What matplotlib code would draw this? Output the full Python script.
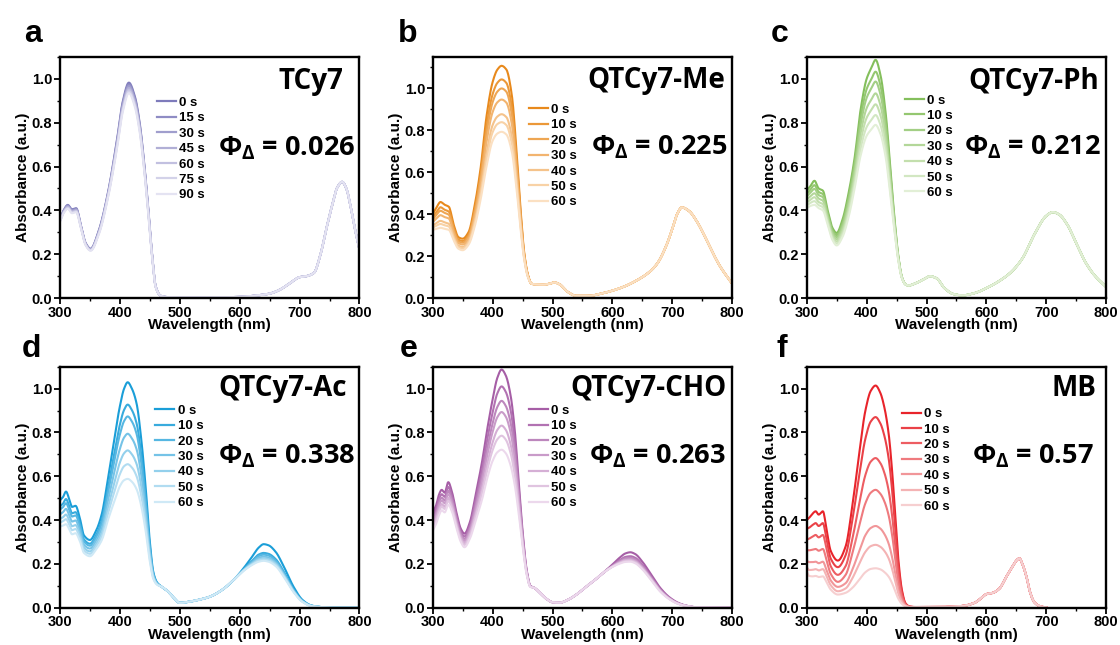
import numpy as np
import matplotlib
matplotlib.use('Agg')
import matplotlib.pyplot as plt
import matplotlib.colors as mcolors
from matplotlib.ticker import MultipleLocator

plt.rcParams['font.family'] = ['Liberation Sans', 'DejaVu Sans']
plt.rcParams['font.weight'] = 'bold'
plt.rcParams['mathtext.fontset'] = 'custom'
plt.rcParams['mathtext.rm'] = 'Open Sans:bold'
plt.rcParams['mathtext.it'] = 'Open Sans:bold'
plt.rcParams['mathtext.bf'] = 'Open Sans:bold'

# ---------------- data ----------------
# a  TCy7
a_times = [0, 15, 30, 45, 60, 75, 90]
a_front_wl = [300, 306, 313, 320, 327, 335, 343, 351, 365, 380, 395, 405, 415, 425, 433, 440, 447, 453, 460, 468]
a_front = [
    [0.360, 0.400, 0.425, 0.405, 0.410, 0.330, 0.250, 0.225, 0.310, 0.480, 0.720, 0.900, 0.983, 0.920, 0.800, 0.630, 0.420, 0.220, 0.050, 0.010],
    [0.358, 0.398, 0.422, 0.402, 0.407, 0.328, 0.248, 0.223, 0.307, 0.476, 0.713, 0.892, 0.975, 0.912, 0.793, 0.625, 0.416, 0.218, 0.050, 0.010],
    [0.356, 0.396, 0.419, 0.399, 0.404, 0.326, 0.246, 0.222, 0.304, 0.472, 0.706, 0.884, 0.967, 0.904, 0.786, 0.620, 0.412, 0.216, 0.049, 0.010],
    [0.354, 0.394, 0.416, 0.396, 0.401, 0.324, 0.245, 0.220, 0.301, 0.468, 0.699, 0.876, 0.959, 0.896, 0.779, 0.614, 0.408, 0.214, 0.049, 0.010],
    [0.352, 0.391, 0.413, 0.393, 0.398, 0.322, 0.243, 0.219, 0.298, 0.464, 0.692, 0.868, 0.951, 0.888, 0.772, 0.608, 0.404, 0.212, 0.048, 0.010],
    [0.350, 0.389, 0.410, 0.390, 0.395, 0.320, 0.242, 0.217, 0.295, 0.460, 0.686, 0.860, 0.943, 0.880, 0.765, 0.603, 0.400, 0.210, 0.048, 0.010],
    [0.348, 0.387, 0.407, 0.387, 0.392, 0.318, 0.240, 0.216, 0.292, 0.456, 0.680, 0.852, 0.935, 0.872, 0.758, 0.598, 0.396, 0.208, 0.047, 0.010],
]
a_tail_wl = [480, 520, 560, 600, 630, 650, 665, 680, 690, 700, 712, 724, 735, 745, 755, 763, 771, 778, 785, 792, 800]
a_tail = [[0.004, 0.003, 0.003, 0.005, 0.012, 0.020, 0.035, 0.060, 0.080, 0.095, 0.100, 0.115, 0.200, 0.320, 0.430, 0.505, 0.530, 0.500, 0.420, 0.320, 0.220]]

# b  QTCy7-Me
b_times = [0, 10, 20, 30, 40, 50, 60]
b_front_wl = [300, 306, 313, 320, 327, 335, 343, 350, 360, 370, 380, 390, 400, 408, 415, 423, 432, 440, 447, 453, 459, 465]
b_front = [
    [0.400, 0.430, 0.458, 0.445, 0.435, 0.350, 0.290, 0.283, 0.315, 0.440, 0.620, 0.870, 1.030, 1.090, 1.108, 1.090, 0.970, 0.700, 0.410, 0.210, 0.110, 0.068],
    [0.385, 0.409, 0.433, 0.421, 0.412, 0.335, 0.279, 0.272, 0.303, 0.419, 0.589, 0.821, 0.972, 1.027, 1.043, 1.026, 0.914, 0.663, 0.391, 0.204, 0.108, 0.068],
    [0.374, 0.396, 0.416, 0.406, 0.397, 0.324, 0.271, 0.264, 0.294, 0.406, 0.569, 0.788, 0.934, 0.985, 1.000, 0.984, 0.877, 0.638, 0.379, 0.200, 0.107, 0.068],
    [0.362, 0.379, 0.395, 0.386, 0.379, 0.312, 0.262, 0.255, 0.284, 0.389, 0.543, 0.747, 0.887, 0.934, 0.947, 0.932, 0.832, 0.608, 0.364, 0.195, 0.105, 0.068],
    [0.345, 0.357, 0.368, 0.361, 0.354, 0.295, 0.250, 0.243, 0.271, 0.367, 0.510, 0.694, 0.825, 0.866, 0.877, 0.863, 0.772, 0.568, 0.344, 0.188, 0.103, 0.068],
    [0.336, 0.345, 0.353, 0.347, 0.341, 0.286, 0.243, 0.236, 0.264, 0.355, 0.492, 0.665, 0.791, 0.830, 0.839, 0.825, 0.739, 0.546, 0.333, 0.184, 0.101, 0.068],
    [0.325, 0.330, 0.335, 0.330, 0.325, 0.275, 0.235, 0.228, 0.255, 0.340, 0.470, 0.630, 0.750, 0.785, 0.793, 0.780, 0.700, 0.520, 0.320, 0.180, 0.100, 0.068],
]
b_tail_wl = [472, 485, 495, 503, 512, 525, 540, 560, 580, 600, 620, 640, 660, 675, 690, 700, 708, 716, 728, 740, 752, 765, 780, 800]
b_tail = [[0.065, 0.064, 0.068, 0.074, 0.065, 0.030, 0.010, 0.010, 0.020, 0.035, 0.055, 0.083, 0.120, 0.165, 0.250, 0.330, 0.400, 0.432, 0.415, 0.370, 0.307, 0.230, 0.150, 0.068]]

# c  QTCy7-Ph
c_times = [0, 10, 20, 30, 40, 50, 60]
c_front_wl = [300, 306, 313, 320, 327, 335, 343, 350, 360, 370, 380, 390, 400, 408, 415, 423, 432, 440, 447, 453, 459, 465]
c_front = [
    [0.490, 0.510, 0.535, 0.500, 0.490, 0.400, 0.320, 0.297, 0.360, 0.480, 0.640, 0.860, 1.000, 1.050, 1.087, 1.020, 0.840, 0.580, 0.350, 0.190, 0.095, 0.062],
    [0.475, 0.494, 0.515, 0.484, 0.474, 0.388, 0.310, 0.287, 0.345, 0.460, 0.615, 0.822, 0.953, 0.999, 1.033, 0.971, 0.804, 0.558, 0.340, 0.186, 0.094, 0.062],
    [0.463, 0.480, 0.498, 0.470, 0.460, 0.378, 0.302, 0.278, 0.333, 0.443, 0.593, 0.790, 0.913, 0.957, 0.988, 0.930, 0.773, 0.540, 0.332, 0.183, 0.093, 0.062],
    [0.449, 0.464, 0.478, 0.454, 0.444, 0.367, 0.292, 0.268, 0.319, 0.423, 0.568, 0.752, 0.866, 0.906, 0.934, 0.881, 0.737, 0.518, 0.322, 0.180, 0.092, 0.062],
    [0.435, 0.448, 0.460, 0.438, 0.428, 0.356, 0.282, 0.258, 0.305, 0.405, 0.544, 0.716, 0.822, 0.858, 0.884, 0.835, 0.703, 0.498, 0.312, 0.176, 0.092, 0.062],
    [0.422, 0.434, 0.442, 0.424, 0.414, 0.345, 0.273, 0.249, 0.292, 0.387, 0.521, 0.682, 0.780, 0.813, 0.835, 0.791, 0.670, 0.478, 0.303, 0.173, 0.091, 0.062],
    [0.410, 0.420, 0.425, 0.410, 0.400, 0.335, 0.265, 0.240, 0.280, 0.370, 0.500, 0.650, 0.740, 0.770, 0.790, 0.750, 0.640, 0.460, 0.295, 0.170, 0.090, 0.062],
]
c_tail_wl = [470, 480, 495, 506, 517, 530, 545, 560, 580, 600, 620, 640, 660, 680, 700, 711, 722, 735, 750, 765, 780, 800]
c_tail = [[0.057, 0.065, 0.085, 0.099, 0.090, 0.045, 0.018, 0.012, 0.022, 0.045, 0.075, 0.115, 0.180, 0.290, 0.375, 0.392, 0.380, 0.335, 0.250, 0.165, 0.105, 0.050]]

# d  QTCy7-Ac
d_times = [0, 10, 20, 30, 40, 50, 60]
d_front_wl = [300, 305, 310, 316, 320, 326, 333, 340, 350, 360, 370, 380, 390, 400, 407, 413, 420, 428, 436, 443, 450, 456, 462]
d_front = [
    [0.490, 0.505, 0.530, 0.490, 0.460, 0.465, 0.410, 0.330, 0.309, 0.350, 0.430, 0.590, 0.760, 0.920, 1.000, 1.029, 1.000, 0.930, 0.760, 0.550, 0.300, 0.160, 0.115],
    [0.462, 0.475, 0.496, 0.459, 0.431, 0.436, 0.386, 0.312, 0.292, 0.330, 0.402, 0.546, 0.695, 0.836, 0.903, 0.927, 0.902, 0.840, 0.691, 0.504, 0.279, 0.153, 0.113],
    [0.448, 0.459, 0.477, 0.442, 0.416, 0.421, 0.373, 0.302, 0.283, 0.320, 0.388, 0.523, 0.661, 0.791, 0.852, 0.873, 0.850, 0.792, 0.654, 0.479, 0.268, 0.149, 0.111],
    [0.426, 0.436, 0.451, 0.418, 0.393, 0.398, 0.354, 0.287, 0.270, 0.305, 0.366, 0.489, 0.611, 0.725, 0.777, 0.794, 0.773, 0.722, 0.600, 0.443, 0.252, 0.144, 0.110],
    [0.405, 0.413, 0.425, 0.395, 0.372, 0.377, 0.336, 0.274, 0.257, 0.290, 0.345, 0.456, 0.563, 0.663, 0.705, 0.718, 0.700, 0.655, 0.548, 0.409, 0.237, 0.139, 0.108],
    [0.388, 0.395, 0.404, 0.376, 0.354, 0.359, 0.321, 0.262, 0.246, 0.278, 0.328, 0.429, 0.523, 0.610, 0.646, 0.655, 0.640, 0.599, 0.506, 0.380, 0.224, 0.135, 0.107],
    [0.370, 0.375, 0.381, 0.355, 0.335, 0.340, 0.305, 0.250, 0.235, 0.265, 0.310, 0.400, 0.480, 0.555, 0.582, 0.588, 0.575, 0.540, 0.460, 0.350, 0.210, 0.130, 0.105],
]
d_tail_wl = [470, 480, 490, 500, 515, 530, 550, 570, 590, 605, 620, 632, 640, 648, 660, 675, 690, 705, 720, 740, 760, 800]
d_tail = [
    [0.095, 0.075, 0.045, 0.022, 0.027, 0.035, 0.050, 0.080, 0.127, 0.175, 0.230, 0.275, 0.290, 0.285, 0.255, 0.180, 0.095, 0.035, 0.010, 0.002, 0.000, 0.000],
    [0.095, 0.075, 0.045, 0.022, 0.027, 0.035, 0.050, 0.080, 0.127, 0.170, 0.212, 0.243, 0.250, 0.246, 0.222, 0.158, 0.083, 0.031, 0.009, 0.002, 0.000, 0.000],
    [0.095, 0.075, 0.045, 0.022, 0.027, 0.035, 0.050, 0.080, 0.127, 0.169, 0.208, 0.236, 0.242, 0.238, 0.215, 0.153, 0.080, 0.030, 0.009, 0.002, 0.000, 0.000],
    [0.095, 0.075, 0.045, 0.022, 0.027, 0.035, 0.050, 0.080, 0.127, 0.168, 0.204, 0.228, 0.233, 0.229, 0.207, 0.147, 0.077, 0.029, 0.008, 0.002, 0.000, 0.000],
    [0.095, 0.075, 0.045, 0.022, 0.027, 0.035, 0.050, 0.080, 0.127, 0.167, 0.200, 0.221, 0.226, 0.222, 0.201, 0.143, 0.075, 0.028, 0.008, 0.002, 0.000, 0.000],
    [0.095, 0.075, 0.045, 0.022, 0.027, 0.035, 0.050, 0.080, 0.127, 0.166, 0.197, 0.216, 0.220, 0.216, 0.196, 0.139, 0.073, 0.027, 0.008, 0.002, 0.000, 0.000],
    [0.095, 0.075, 0.045, 0.022, 0.027, 0.035, 0.050, 0.080, 0.127, 0.165, 0.194, 0.210, 0.214, 0.210, 0.190, 0.135, 0.071, 0.026, 0.007, 0.002, 0.000, 0.000],
]

# e  QTCy7-CHO
e_times = [0, 10, 20, 30, 40, 50, 60]
e_front_wl = [300, 306, 311, 315, 320, 326, 332, 340, 347, 353, 362, 372, 382, 392, 400, 408, 415, 422, 430, 437, 444, 451, 457, 463]
e_front = [
    [0.430, 0.470, 0.520, 0.538, 0.525, 0.573, 0.530, 0.430, 0.360, 0.338, 0.390, 0.520, 0.660, 0.830, 0.950, 1.050, 1.087, 1.060, 0.970, 0.810, 0.560, 0.320, 0.170, 0.100],
    [0.413, 0.452, 0.500, 0.518, 0.506, 0.551, 0.511, 0.415, 0.347, 0.325, 0.374, 0.495, 0.624, 0.782, 0.891, 0.979, 1.010, 0.985, 0.903, 0.757, 0.531, 0.307, 0.166, 0.099],
    [0.399, 0.437, 0.483, 0.502, 0.490, 0.533, 0.495, 0.403, 0.337, 0.314, 0.361, 0.473, 0.594, 0.740, 0.841, 0.917, 0.944, 0.921, 0.845, 0.712, 0.505, 0.297, 0.162, 0.098],
    [0.388, 0.425, 0.470, 0.489, 0.477, 0.518, 0.482, 0.393, 0.328, 0.305, 0.350, 0.456, 0.570, 0.708, 0.802, 0.870, 0.893, 0.872, 0.800, 0.677, 0.486, 0.288, 0.159, 0.097],
    [0.374, 0.411, 0.454, 0.473, 0.462, 0.501, 0.467, 0.381, 0.318, 0.295, 0.338, 0.436, 0.541, 0.669, 0.754, 0.812, 0.831, 0.812, 0.746, 0.635, 0.462, 0.278, 0.156, 0.097],
    [0.364, 0.400, 0.442, 0.461, 0.451, 0.488, 0.456, 0.372, 0.310, 0.287, 0.328, 0.421, 0.520, 0.640, 0.719, 0.769, 0.785, 0.767, 0.706, 0.604, 0.444, 0.270, 0.153, 0.096],
    [0.350, 0.385, 0.425, 0.445, 0.435, 0.470, 0.440, 0.360, 0.300, 0.276, 0.315, 0.400, 0.490, 0.600, 0.670, 0.710, 0.721, 0.705, 0.650, 0.560, 0.420, 0.260, 0.150, 0.095],
]
e_tail_wl = [470, 480, 490, 500, 512, 525, 540, 555, 570, 585, 600, 612, 622, 630, 638, 650, 665, 680, 695, 710, 725, 740, 800]
e_tail = [
    [0.090, 0.065, 0.040, 0.025, 0.023, 0.035, 0.060, 0.093, 0.125, 0.160, 0.197, 0.228, 0.248, 0.253, 0.245, 0.210, 0.150, 0.090, 0.048, 0.022, 0.008, 0.002, 0.000],
    [0.090, 0.065, 0.040, 0.025, 0.023, 0.035, 0.060, 0.093, 0.125, 0.160, 0.192, 0.217, 0.232, 0.235, 0.228, 0.196, 0.140, 0.084, 0.045, 0.020, 0.008, 0.002, 0.000],
    [0.090, 0.065, 0.040, 0.025, 0.023, 0.035, 0.060, 0.093, 0.125, 0.160, 0.190, 0.213, 0.226, 0.228, 0.221, 0.190, 0.136, 0.081, 0.043, 0.019, 0.008, 0.002, 0.000],
    [0.090, 0.065, 0.040, 0.025, 0.023, 0.035, 0.060, 0.093, 0.125, 0.160, 0.189, 0.209, 0.220, 0.222, 0.215, 0.185, 0.132, 0.079, 0.042, 0.019, 0.008, 0.002, 0.000],
    [0.090, 0.065, 0.040, 0.025, 0.023, 0.035, 0.060, 0.093, 0.125, 0.160, 0.188, 0.206, 0.217, 0.218, 0.211, 0.182, 0.130, 0.077, 0.041, 0.018, 0.007, 0.002, 0.000],
    [0.090, 0.065, 0.040, 0.025, 0.023, 0.035, 0.060, 0.093, 0.125, 0.160, 0.187, 0.204, 0.213, 0.214, 0.207, 0.178, 0.127, 0.075, 0.040, 0.018, 0.007, 0.002, 0.000],
    [0.090, 0.065, 0.040, 0.025, 0.023, 0.035, 0.060, 0.093, 0.125, 0.160, 0.186, 0.201, 0.209, 0.210, 0.203, 0.175, 0.125, 0.073, 0.039, 0.017, 0.007, 0.002, 0.000],
]

# f  MB
f_times = [0, 10, 20, 30, 40, 50, 60]
f_front_wl = [300, 304, 310, 315, 320, 327, 333, 340, 352, 365, 376, 387, 398, 407, 415, 423, 430, 437, 443, 448, 453, 459, 465, 472]
f_front = [
    [0.400, 0.410, 0.430, 0.440, 0.425, 0.440, 0.360, 0.260, 0.215, 0.280, 0.460, 0.690, 0.900, 0.990, 1.014, 0.980, 0.910, 0.790, 0.610, 0.410, 0.220, 0.080, 0.020, 0.005],
    [0.360, 0.365, 0.378, 0.386, 0.373, 0.386, 0.315, 0.225, 0.185, 0.240, 0.395, 0.592, 0.772, 0.850, 0.870, 0.841, 0.781, 0.678, 0.524, 0.352, 0.190, 0.070, 0.018, 0.005],
    [0.310, 0.315, 0.325, 0.332, 0.321, 0.332, 0.270, 0.190, 0.150, 0.190, 0.310, 0.465, 0.606, 0.667, 0.683, 0.660, 0.613, 0.532, 0.411, 0.277, 0.150, 0.056, 0.015, 0.004],
    [0.262, 0.262, 0.265, 0.268, 0.260, 0.268, 0.218, 0.155, 0.118, 0.150, 0.245, 0.366, 0.477, 0.525, 0.538, 0.520, 0.483, 0.419, 0.324, 0.218, 0.118, 0.045, 0.012, 0.004],
    [0.215, 0.208, 0.208, 0.210, 0.203, 0.210, 0.172, 0.125, 0.095, 0.112, 0.172, 0.254, 0.331, 0.364, 0.373, 0.361, 0.335, 0.291, 0.225, 0.152, 0.082, 0.032, 0.010, 0.003],
    [0.185, 0.172, 0.173, 0.176, 0.170, 0.176, 0.145, 0.103, 0.075, 0.088, 0.133, 0.196, 0.255, 0.281, 0.287, 0.278, 0.258, 0.224, 0.173, 0.117, 0.064, 0.025, 0.008, 0.003],
    [0.165, 0.145, 0.143, 0.145, 0.140, 0.143, 0.118, 0.083, 0.060, 0.068, 0.090, 0.125, 0.162, 0.177, 0.180, 0.175, 0.162, 0.141, 0.109, 0.074, 0.041, 0.017, 0.006, 0.002],
]
f_tail_wl = [480, 520, 560, 580, 592, 600, 611, 622, 633, 644, 650, 655, 660, 667, 673, 680, 690, 700]
f_tail = [[0.003, 0.003, 0.008, 0.022, 0.045, 0.062, 0.068, 0.088, 0.140, 0.190, 0.215, 0.225, 0.200, 0.140, 0.070, 0.025, 0.006, 0.001]]

names = ['TCy7', 'QTCy7-Me', 'QTCy7-Ph', 'QTCy7-Ac', 'QTCy7-CHO', 'MB']
phis = ['0.026', '0.225', '0.212', '0.338', '0.263', '0.57']
letters = ['a', 'b', 'c', 'd', 'e', 'f']

panels = [
    (a_times, a_front_wl, a_front, a_tail_wl, a_tail),
    (b_times, b_front_wl, b_front, b_tail_wl, b_tail),
    (c_times, c_front_wl, c_front, c_tail_wl, c_tail),
    (d_times, d_front_wl, d_front, d_tail_wl, d_tail),
    (e_times, e_front_wl, e_front, e_tail_wl, e_tail),
    (f_times, f_front_wl, f_front, f_tail_wl, f_tail),
]

# ---------------- styling ----------------
dark = ['#7e7bbb', '#e8891c', '#84bf5c', '#1a9ed8', '#a65ea6', '#e8242b']
light = ['#e4e3f2', '#fbe0c2', '#e2efd6', '#cfe9f6', '#ecd8ec', '#f6cfd0']
ylims = [1.1, 1.15, 1.1, 1.1, 1.1, 1.1]

lefts = [60, 432.7, 806.7]
bottoms = [298, 607.7]
W, H = 1120, 645
title_font = ['Open Sans', 'DejaVu Sans']

name_pos = [(0.946, 0.897), (0.977, 0.903), (0.978, 0.900), (0.958, 0.910), (0.983, 0.910), (0.967, 0.910)]
phi_pos = [(0.987, 0.620), (0.983, 0.627), (0.983, 0.627), (0.987, 0.627), (0.978, 0.627), (0.960, 0.627)]
leg_pos = [(0.323, 0.815), (0.320, 0.786), (0.328, 0.825), (0.318, 0.823), (0.320, 0.823), (0.317, 0.809)]
letter_pos = [(24, 41.7), (398, 41.7), (770.7, 41.7), (22, 356.7), (400, 356.7), (776.7, 356.7)]


def smooth(x, y, xs):
    # monotone cubic through the read points, only for drawing smooth lines
    x = np.asarray(x, float)
    y = np.asarray(y, float)
    h = np.diff(x)
    d = np.diff(y) / h
    m = np.zeros_like(y)
    for k in range(1, len(x) - 1):
        if d[k - 1] * d[k] > 0:
            w1 = 2 * h[k] + h[k - 1]
            w2 = h[k] + 2 * h[k - 1]
            m[k] = (w1 + w2) / (w1 / d[k - 1] + w2 / d[k])
    m[0] = d[0]
    m[-1] = d[-1]
    i = np.clip(np.searchsorted(x, xs) - 1, 0, len(h) - 1)
    t = (xs - x[i]) / h[i]
    return ((2 * t**3 - 3 * t**2 + 1) * y[i] + (t**3 - 2 * t**2 + t) * h[i] * m[i]
            + (-2 * t**3 + 3 * t**2) * y[i + 1] + (t**3 - t**2) * h[i] * m[i + 1])


fig = plt.figure(figsize=(W / 100, H / 100), dpi=100)

for p, (times, fwl, front, twl, tail) in enumerate(panels):
    col, row = p % 3, p // 3
    ax = fig.add_axes([lefts[col] / W, 1 - bottoms[row] / H, 299.5 / W, 241 / H])
    c0 = np.array(mcolors.to_rgb(dark[p]))
    c1 = np.array(mcolors.to_rgb(light[p]))
    n = len(times)
    for i, t in enumerate(times):
        wl = fwl + twl
        vals = front[i] + (tail[i] if len(tail) > 1 else tail[0])
        xs = np.linspace(wl[0], wl[-1], 600)
        ys = smooth(wl, vals, xs)
        c = c0 + (c1 - c0) * i / (n - 1)
        ax.plot(xs, ys, color=c, lw=1.5, label=f'{t} s')

    ax.set_xlim(300, 800)
    ax.set_ylim(0, ylims[p])
    ax.xaxis.set_major_locator(MultipleLocator(100))
    ax.xaxis.set_minor_locator(MultipleLocator(50))
    ax.yaxis.set_major_locator(MultipleLocator(0.2))
    ax.yaxis.set_minor_locator(MultipleLocator(0.1))
    ax.yaxis.set_major_formatter(plt.FuncFormatter(lambda v, _: f'{v:.1f}'))
    ax.tick_params(which='major', direction='out', length=4, width=1.3, labelsize=10.5, pad=1.5)
    ax.tick_params(which='minor', direction='out', length=2.5, width=1.0)
    for s in ax.spines.values():
        s.set_linewidth(1.7)
    for lab in ax.get_xticklabels() + ax.get_yticklabels():
        lab.set_fontweight('bold')
    ax.set_xlabel('Wavelength (nm)', fontsize=11, fontweight='bold', labelpad=-1)
    ax.set_ylabel('Absorbance (a.u.)', fontsize=11, fontweight='bold', labelpad=1)

    ax.text(name_pos[p][0], name_pos[p][1], names[p], transform=ax.transAxes,
            ha='right', va='center', fontsize=20, fontweight='bold', family=title_font)
    ax.text(phi_pos[p][0], phi_pos[p][1], 'Φ$_{Δ}$ = ' + phis[p], transform=ax.transAxes,
            ha='right', va='center', fontsize=19.5, fontweight='bold', family=title_font)

    lx, ly = leg_pos[p]
    leg = ax.legend(loc='upper left', bbox_to_anchor=(lx, ly + 0.02), frameon=False,
                    handlelength=1.45, handletextpad=0.25, labelspacing=0.24,
                    borderpad=0, borderaxespad=0, prop={'weight': 'bold', 'size': 9.5})
    for h in leg.get_lines():
        h.set_linewidth(1.6)

    lxp, lyp = letter_pos[p]
    fig.text(lxp / W, 1 - lyp / H, letters[p], fontsize=23, fontweight='bold', va='baseline', ha='left')

fig.savefig('out.png', dpi=100)
